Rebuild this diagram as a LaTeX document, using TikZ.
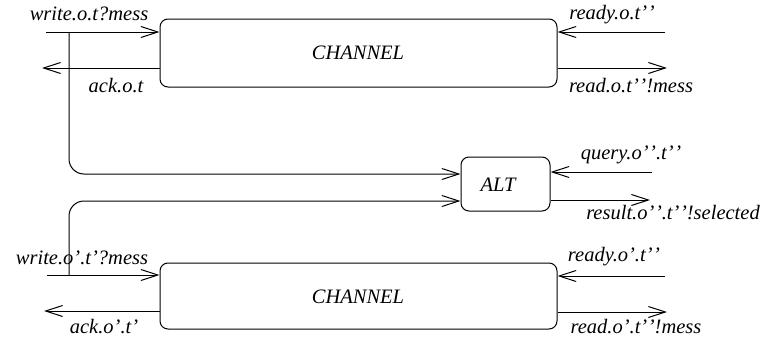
\documentclass[tikz,border=0pt]{standalone}
\usepackage{fontspec}
\setmainfont{Liberation Serif}[ItalicFont={Liberation Serif Italic}]
\usetikzlibrary{arrows.meta}
\newcommand{\q}{’\kern0.6pt’}
\begin{document}
\begin{tikzpicture}[x=1pt,y=-1pt,
  box/.style={draw,line width=1pt,rounded corners=8pt,inner sep=0pt},
  arr/.style={line width=1pt,-{Straight Barb[length=17pt,width=11pt,line width=1pt]}},
  lbl/.style={inner sep=0pt,font=\fontsize{20.5}{22}\selectfont\itshape},
]
\useasboundingbox (0,0) rectangle (765,340);
% boxes
\node[box,minimum width=397pt,minimum height=68pt] (ch1) at (358.5,53) {};
\node[lbl] (ch1t) at (358,53) {CHANNEL};
\node[box,minimum width=89pt,minimum height=54pt] (alt) at (505.5,184) {};
\node[lbl] (altt) at (498,185) {ALT};
\node[box,minimum width=397pt,minimum height=66pt] (ch2) at (358.5,296) {};
\node[lbl] (ch2t) at (358,297) {CHANNEL};
% free ends
\coordinate (w1) at (46,32);
\coordinate (a1) at (42,68);
\coordinate (r1) at (665,32);
\coordinate (d1) at (667,68);
\coordinate (j1) at (69,32);
\coordinate (q) at (652,172);
\coordinate (res) at (650,200);
\coordinate (w2) at (47,275);
\coordinate (a2) at (44,311);
\coordinate (r2) at (665,276);
\coordinate (d2) at (667,312);
\coordinate (j2) at (69,275);
% top channel connectors
\draw[arr] (w1) -- (w1 -| ch1.west);
\draw[arr] (a1 -| ch1.west) -- (a1);
\draw[arr] (r1) -- (r1 -| ch1.east);
\draw[arr] (d1 -| ch1.east) -- (d1);
% to ALT
\draw[arr,rounded corners=15pt] (j1) |- (alt.west |- 0,174);
\draw[arr,rounded corners=15pt] (j2) |- (alt.west |- 0,201);
\draw[arr] (q) -- (q -| alt.east);
\draw[arr] (res -| alt.east) -- (res);
% bottom channel connectors
\draw[arr] (w2) -- (w2 -| ch2.west);
\draw[arr] (a2 -| ch2.west) -- (a2);
\draw[arr] (r2) -- (r2 -| ch2.east);
\draw[arr] (d2 -| ch2.east) -- (d2);
% labels
\node[lbl] (lw1) at (89,14) {write.o.t?mess};
\node[lbl] (la1) at (116,86) {ack.o.t};
\node[lbl] (lr1) at (612,15) {ready.o.t\q};
\node[lbl] (ld1) at (631,86) {read.o.t\q!mess};
\node[lbl] (lq) at (631,155) {query.o\q.t\q};
\node[lbl] (lres) at (673,213) {result.o\q.t\q!selected};
\node[lbl] (lw2) at (82,258) {write.o’.t’?mess};
\node[lbl] (la2) at (104,327) {ack.o’.t’};
\node[lbl] (lr2) at (614,257) {ready.o’.t\q};
\node[lbl] (ld2) at (636,327) {read.o’.t\q!mess};
\end{tikzpicture}
\end{document}
